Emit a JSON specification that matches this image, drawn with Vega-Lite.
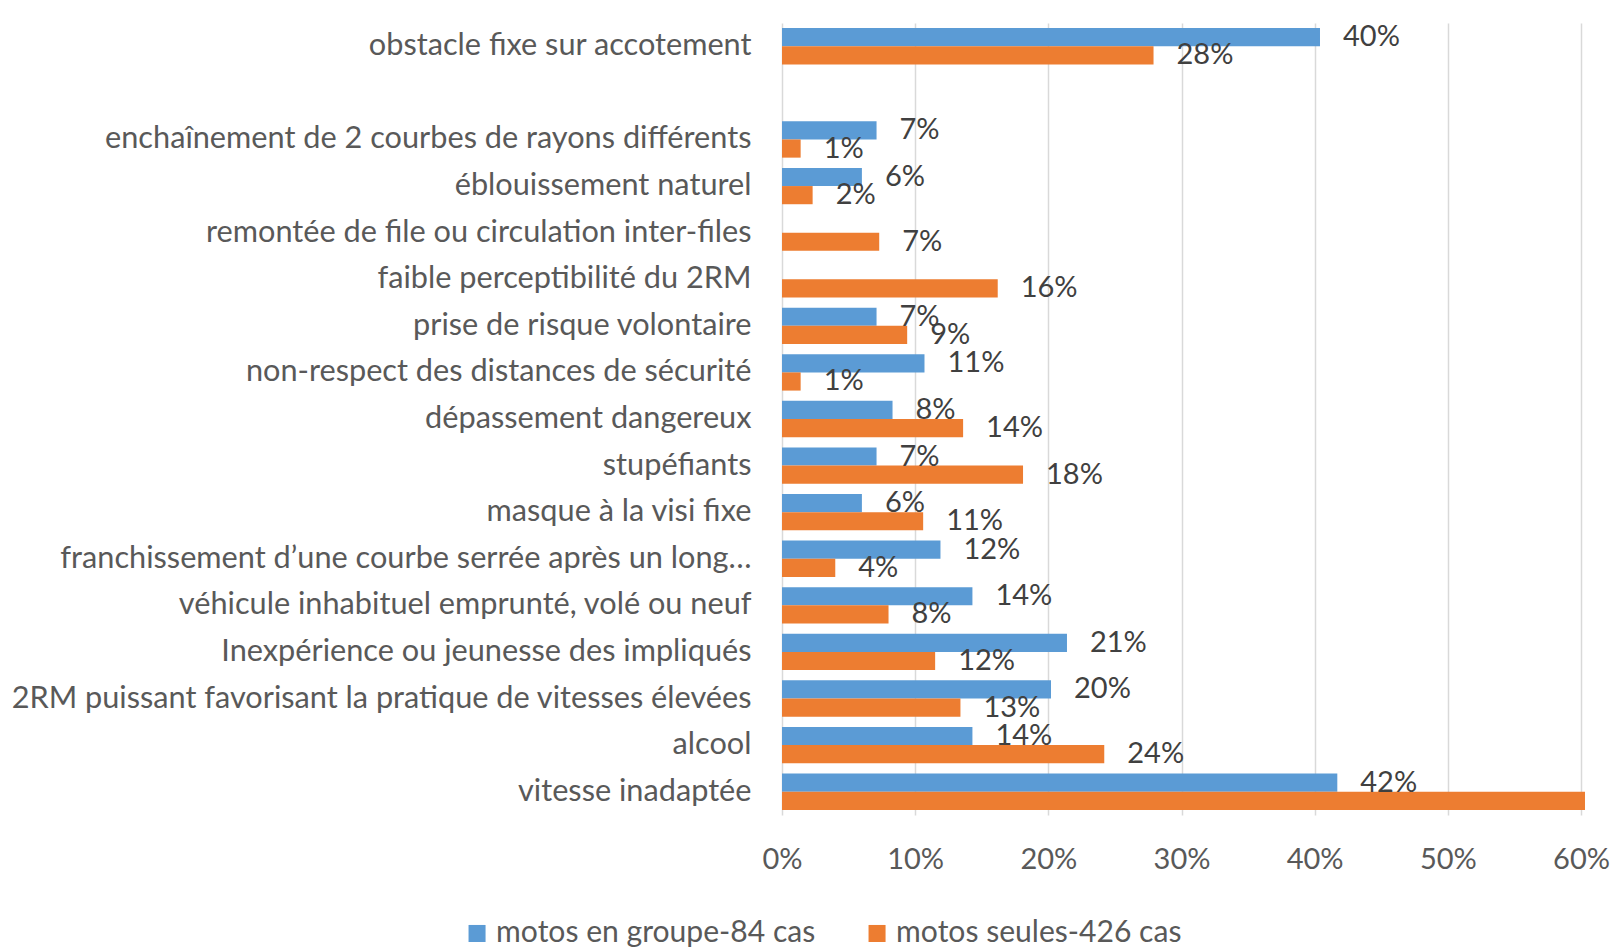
{
  "$schema": "https://vega.github.io/schema/vega-lite/v6.json",
  "width": 799,
  "height": 792,
  "autosize": {"type": "none"},
  "padding": {"left": 782, "top": 23, "right": 32, "bottom": 137},
  "background": "white",
  "config": {"view": {"stroke": null}, "font": "Lato"},
  "data": {"values": [
    {"cause": "obstacle fixe sur accotement", "serie": "motos en groupe-84 cas", "v": 0.404},
    {"cause": "obstacle fixe sur accotement", "serie": "motos seules-426 cas", "v": 0.279},
    {"cause": "enchaînement de 2 courbes de rayons différents", "serie": "motos en groupe-84 cas", "v": 0.071},
    {"cause": "enchaînement de 2 courbes de rayons différents", "serie": "motos seules-426 cas", "v": 0.014},
    {"cause": "éblouissement naturel\u00a0", "serie": "motos en groupe-84 cas", "v": 0.06},
    {"cause": "éblouissement naturel\u00a0", "serie": "motos seules-426 cas", "v": 0.023},
    {"cause": "remontée de file ou circulation inter-files", "serie": "motos seules-426 cas", "v": 0.073},
    {"cause": "faible perceptibilité du 2RM", "serie": "motos seules-426 cas", "v": 0.162},
    {"cause": "prise de risque volontaire", "serie": "motos en groupe-84 cas", "v": 0.071},
    {"cause": "prise de risque volontaire", "serie": "motos seules-426 cas", "v": 0.094},
    {"cause": "non-respect des distances de sécurité", "serie": "motos en groupe-84 cas", "v": 0.107},
    {"cause": "non-respect des distances de sécurité", "serie": "motos seules-426 cas", "v": 0.014},
    {"cause": "dépassement dangereux", "serie": "motos en groupe-84 cas", "v": 0.083},
    {"cause": "dépassement dangereux", "serie": "motos seules-426 cas", "v": 0.136},
    {"cause": "stupéfiants", "serie": "motos en groupe-84 cas", "v": 0.071},
    {"cause": "stupéfiants", "serie": "motos seules-426 cas", "v": 0.181},
    {"cause": "masque à la visi fixe", "serie": "motos en groupe-84 cas", "v": 0.06},
    {"cause": "masque à la visi fixe", "serie": "motos seules-426 cas", "v": 0.106},
    {"cause": "franchissement d’une courbe serrée après un long…", "serie": "motos en groupe-84 cas", "v": 0.119},
    {"cause": "franchissement d’une courbe serrée après un long…", "serie": "motos seules-426 cas", "v": 0.04},
    {"cause": "véhicule inhabituel emprunté, volé ou neuf", "serie": "motos en groupe-84 cas", "v": 0.143},
    {"cause": "véhicule inhabituel emprunté, volé ou neuf", "serie": "motos seules-426 cas", "v": 0.08},
    {"cause": "Inexpérience ou jeunesse des impliqués", "serie": "motos en groupe-84 cas", "v": 0.214},
    {"cause": "Inexpérience ou jeunesse des impliqués", "serie": "motos seules-426 cas", "v": 0.115},
    {"cause": "2RM puissant favorisant la pratique de vitesses élevées", "serie": "motos en groupe-84 cas", "v": 0.202},
    {"cause": "2RM puissant favorisant la pratique de vitesses élevées", "serie": "motos seules-426 cas", "v": 0.134},
    {"cause": "alcool", "serie": "motos en groupe-84 cas", "v": 0.143},
    {"cause": "alcool", "serie": "motos seules-426 cas", "v": 0.242},
    {"cause": "vitesse inadaptée", "serie": "motos en groupe-84 cas", "v": 0.417},
    {"cause": "vitesse inadaptée", "serie": "motos seules-426 cas", "v": 0.603}
  ]},
  "encoding": {
    "y": {
      "field": "cause", "type": "nominal", "title": null,
      "scale": {"domain": [
        "obstacle fixe sur accotement", "",
        "enchaînement de 2 courbes de rayons différents",
        "éblouissement naturel\u00a0",
        "remontée de file ou circulation inter-files",
        "faible perceptibilité du 2RM",
        "prise de risque volontaire",
        "non-respect des distances de sécurité",
        "dépassement dangereux",
        "stupéfiants",
        "masque à la visi fixe",
        "franchissement d’une courbe serrée après un long…",
        "véhicule inhabituel emprunté, volé ou neuf",
        "Inexpérience ou jeunesse des impliqués",
        "2RM puissant favorisant la pratique de vitesses élevées",
        "alcool",
        "vitesse inadaptée"
      ], "paddingInner": 0.22, "paddingOuter": 0.11},
      "axis": {"domain": false, "ticks": false, "labelFontSize": 30.7, "labelColor": "#595959", "labelPadding": 31, "labelLimit": 1000}
    },
    "yOffset": {"field": "serie", "type": "nominal", "scale": {"domain": ["motos en groupe-84 cas", "motos seules-426 cas"]}},
    "x": {
      "field": "v", "type": "quantitative", "title": null,
      "scale": {"domain": [0, 0.6], "nice": false},
      "axis": {"values": [0, 0.1, 0.2, 0.3, 0.4, 0.5, 0.6], "format": ".0%", "domain": false, "ticks": false, "grid": true, "gridColor": "#d9d9d9", "gridWidth": 1.5, "labelFontSize": 29, "labelColor": "#595959", "labelPadding": 30, "labelFlush": false}
    }
  },
  "layer": [
    {
      "mark": {"type": "bar"},
      "encoding": {
        "color": {
          "field": "serie", "type": "nominal",
          "scale": {"domain": ["motos en groupe-84 cas", "motos seules-426 cas"], "range": ["#5B9BD5", "#ED7D31"]},
          "legend": {"title": null, "orient": "none", "direction": "horizontal", "legendX": -320, "legendY": 895, "symbolType": "square", "symbolSize": 290, "symbolStrokeWidth": 0, "labelFontSize": 30.1, "labelColor": "#595959", "columnPadding": 46, "labelOffset": 4, "labelLimit": 1000}
        }
      }
    },
    {
      "transform": [{"filter": "datum.v < 0.59"}],
      "mark": {"type": "text", "align": "left", "baseline": "middle", "dx": 23, "fontSize": 29, "color": "#404040"},
      "encoding": {"text": {"field": "v", "type": "quantitative", "format": ".0%"}}
    }
  ]
}
